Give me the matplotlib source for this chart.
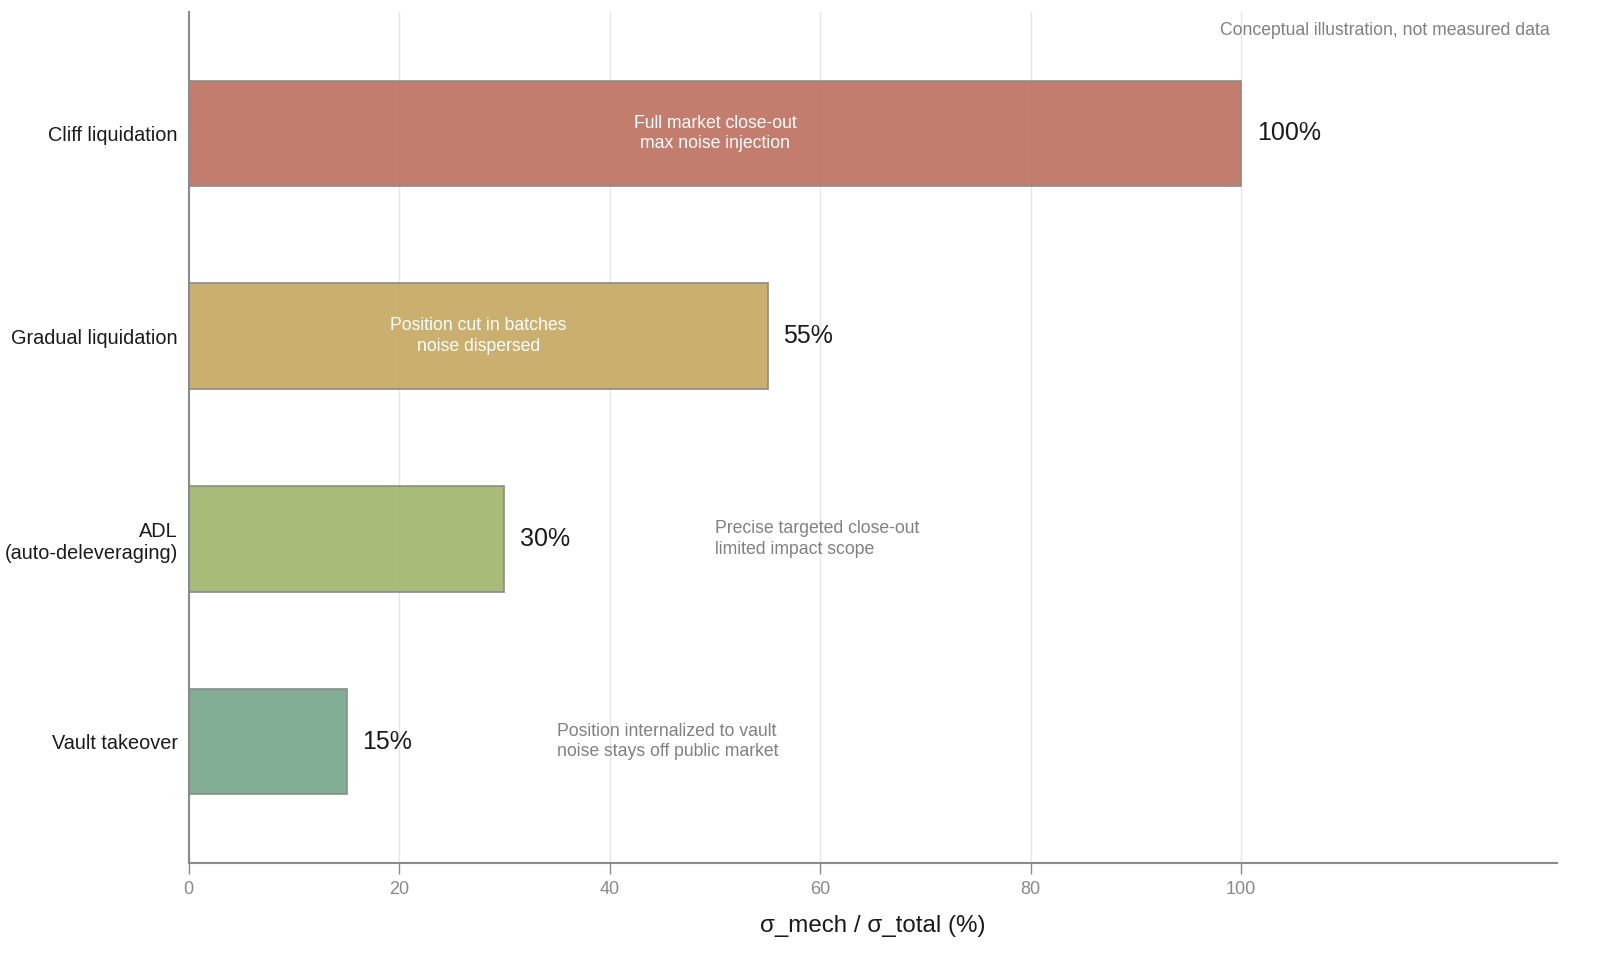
import matplotlib
matplotlib.use('Agg')
import matplotlib.pyplot as plt

plt.rcParams['font.family'] = ['Liberation Sans', 'DejaVu Sans']

categories = ['Cliff liquidation', 'Gradual liquidation',
              'ADL\n(auto-deleveraging)', 'Vault takeover']
values = [100, 55, 30, 15]
notes = ['Full market close-out\nmax noise injection',
         'Position cut in batches\nnoise dispersed',
         'Precise targeted close-out\nlimited impact scope',
         'Position internalized to vault\nnoise stays off public market']
inside = [True, True, False, False]
colors = ['#BD6F5E', '#C5A75E', '#9FB46B', '#74A58A']

GRAY = '#8A8A8A'

fig = plt.figure(figsize=(16, 9.69), dpi=100)
ax = fig.add_axes([0.118, 0.109, 0.855, 0.879])

y = list(range(len(categories)))
ax.barh(y, values, height=0.52, color=colors, alpha=0.9,
        edgecolor=GRAY, linewidth=1.3, zorder=2)

for yi, v, note, ins in zip(y, values, notes, inside):
    ax.text(v + 1.5, yi, f'{v}%', va='center', ha='left',
            fontsize=18, color='#1A1A1A', zorder=3)
    if ins:
        ax.text(v / 2, yi, note, va='center', ha='center',
                fontsize=12.7, color='white', linespacing=1.25, zorder=3)
    else:
        ax.text(v + 20, yi, note, va='center', ha='left',
                fontsize=12.7, color='#808080', linespacing=1.25, zorder=3)

ax.set_xlim(0, 130)
ax.set_ylim(3.6, -0.6)
ax.set_xticks([0, 20, 40, 60, 80, 100])
ax.set_yticks(y)
ax.set_yticklabels(categories, fontsize=14.3, color='#1A1A1A')
ax.tick_params(axis='y', length=0, pad=8)
ax.tick_params(axis='x', length=8, width=1, color=GRAY, labelcolor=GRAY,
               labelsize=13, pad=5)
ax.xaxis.grid(True, color='#E6E6E6', linewidth=1, zorder=0)
ax.set_axisbelow(True)

for s in ['top', 'right']:
    ax.spines[s].set_visible(False)
for s in ['left', 'bottom']:
    ax.spines[s].set_color(GRAY)
    ax.spines[s].set_linewidth(1.5)

ax.set_xlabel('σ_mech / σ_total (%)', fontsize=17.4, color='#1A1A1A', labelpad=12)

ax.text(0.995, 0.978, 'Conceptual illustration, not measured data',
        transform=ax.transAxes, ha='right', va='center',
        fontsize=12.7, color='#808080')

fig.savefig('out.png', dpi=100)
